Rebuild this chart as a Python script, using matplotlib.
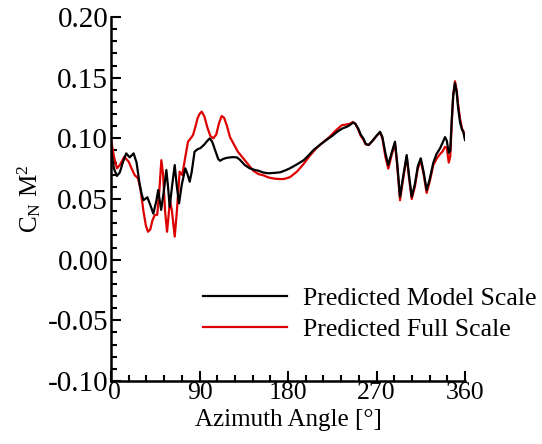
import matplotlib
matplotlib.use("Agg")
import matplotlib.pyplot as plt
import matplotlib.transforms as mtransforms
from matplotlib.ticker import MultipleLocator, FormatStrFormatter

plt.rcParams['font.family'] = ['Liberation Serif', 'DejaVu Serif']
plt.rcParams['mathtext.fontset'] = 'custom'
plt.rcParams['mathtext.rm'] = 'Liberation Serif'
plt.rcParams['mathtext.it'] = 'Liberation Serif:italic'

# Predicted Model Scale (black)
model_angle = [0, 3, 6, 9, 12, 15.5, 19, 23, 26, 29, 31, 33, 37, 40, 43, 46, 48, 51, 53.5, 56.3,
               58, 59.7, 62, 64.8, 67, 69.2, 72, 75.6, 78, 80, 82, 85, 88, 91, 95, 98, 100.5, 103,
               106, 109, 111, 114, 118, 124, 128, 131, 136, 141, 146, 150, 155, 160, 166, 172, 177,
               182, 189, 196, 201, 206, 213, 219, 225, 230, 235, 240, 243, 246, 248.5, 251.5, 254,
               256.6, 259, 262, 266, 270, 273.6, 276, 279, 282, 285, 288.8, 291, 293.9, 297, 300.7,
               303, 305.8, 309, 312, 315, 318, 321, 324, 327.8, 331, 334.6, 337, 339.7, 341.5,
               343.5, 345, 346.5, 348, 349.8, 351.5, 353, 355, 357, 358.3, 360]
model_cn = [0.091, 0.075, 0.069, 0.072, 0.080, 0.0876, 0.0843, 0.0876, 0.080, 0.063, 0.0546, 0.049,
            0.0514, 0.045, 0.038, 0.048, 0.0574, 0.041, 0.055, 0.0739, 0.060, 0.0436, 0.060, 0.078,
            0.060, 0.0464, 0.062, 0.0753, 0.070, 0.0642, 0.072, 0.089, 0.091, 0.092, 0.095, 0.098,
            0.100, 0.097, 0.090, 0.083, 0.0815, 0.083, 0.084, 0.0845, 0.0843, 0.0824, 0.078, 0.0753,
            0.074, 0.0733, 0.0718, 0.0712, 0.0715, 0.0720, 0.0735, 0.0753, 0.0785, 0.082, 0.086,
            0.0904, 0.095, 0.0986, 0.102, 0.1054, 0.108, 0.1096, 0.111, 0.113, 0.112, 0.108, 0.103,
            0.100, 0.0955, 0.0945, 0.098, 0.102, 0.1054, 0.101, 0.088, 0.078, 0.087, 0.0972, 0.080,
            0.0519, 0.068, 0.0862, 0.070, 0.0519, 0.062, 0.077, 0.0835, 0.072, 0.0574, 0.066, 0.080,
            0.087, 0.0917, 0.096, 0.1010, 0.098, 0.088, 0.090, 0.115, 0.135, 0.1453, 0.138, 0.125,
            0.113, 0.107, 0.1054, 0.0986]

# Predicted Full Scale (red)
full_angle = [0, 3, 6, 9, 13.5, 18, 21, 24, 27.5, 30, 33, 35.5, 37.6, 40, 42, 44.4, 47, 49, 51.2,
              53, 55, 57, 60, 62, 64.8, 67, 69.8, 72.5, 75, 78.3, 81, 83.4, 86, 88, 90, 92.2, 95,
              98, 101, 104, 107, 110, 112.6, 115, 118, 121, 124.4, 129, 134.5, 140, 144.7, 150,
              155, 160, 166, 172, 176, 182, 189, 196, 202.5, 209, 216, 222, 228, 234.5, 240, 243,
              246, 248.5, 251.5, 254, 256.6, 259, 262, 266, 270, 273.6, 276, 279, 282, 285, 288.8,
              291, 293.9, 297, 300.7, 303, 305.8, 309, 312, 315, 318, 321, 324, 327.8, 331, 334.6,
              337, 339.7, 341.5, 343.5, 345, 346.5, 348, 349.8, 351.5, 353, 355, 357, 358.3, 360]
full_cn = [0.099, 0.085, 0.0753, 0.078, 0.0848, 0.0807, 0.075, 0.0698, 0.0670, 0.058, 0.040, 0.028,
           0.0230, 0.025, 0.032, 0.0367, 0.037, 0.055, 0.082, 0.070, 0.040, 0.0230, 0.049, 0.040,
           0.019, 0.040, 0.0725, 0.0698, 0.082, 0.0972, 0.100, 0.1027, 0.110, 0.1165, 0.120, 0.122,
           0.118, 0.109, 0.102, 0.100, 0.103, 0.113, 0.1184, 0.117, 0.110, 0.101, 0.0959, 0.089,
           0.0835, 0.078, 0.0733, 0.0705, 0.0695, 0.0678, 0.0668, 0.0664, 0.0665, 0.068, 0.0725,
           0.079, 0.086, 0.092, 0.097, 0.101, 0.106, 0.1107, 0.1115, 0.112, 0.1135, 0.112, 0.107,
           0.102, 0.099, 0.095, 0.0945, 0.098, 0.102, 0.1050, 0.100, 0.085, 0.075, 0.085, 0.096,
           0.078, 0.049, 0.066, 0.085, 0.068, 0.050, 0.060, 0.075, 0.082, 0.070, 0.055, 0.064,
           0.078, 0.083, 0.087, 0.089, 0.093, 0.092, 0.080, 0.085, 0.112, 0.136, 0.147, 0.140,
           0.128, 0.116, 0.108, 0.106, 0.100]

x_ticks = [0, 90, 180, 270, 360]
y_ticks = [-0.10, -0.05, 0.00, 0.05, 0.10, 0.15, 0.20]

fig = plt.figure(figsize=(5.42, 4.44), dpi=100)
ax = fig.add_axes([111/542, 63/444, 354/542, 364/444])

l_full, = ax.plot(full_angle, full_cn, color='#dd0000', lw=1.6, label='Predicted Full Scale')
l_model, = ax.plot(model_angle, model_cn, color='black', lw=1.6, label='Predicted Model Scale')

ax.set_xlim(0, 360)
ax.set_ylim(-0.10, 0.20)
ax.set_xticks(x_ticks)
ax.set_yticks(y_ticks)
ax.yaxis.set_major_formatter(FormatStrFormatter('%.2f'))
ax.xaxis.set_minor_locator(MultipleLocator(18))
ax.yaxis.set_minor_locator(MultipleLocator(0.01))
ax.tick_params(which='both', direction='in', width=1.5)
ax.tick_params(which='major', length=7.5)
ax.tick_params(which='minor', length=4.5)
ax.tick_params(axis='x', which='major', labelsize=18.5, pad=1)
ax.tick_params(axis='y', which='major', labelsize=21, pad=2)
for s in ['top', 'right']:
    ax.spines[s].set_visible(False)
for s in ['left', 'bottom']:
    ax.spines[s].set_linewidth(1.8)

# nudge the "0" x tick label slightly right so it clears the -0.10 label
xlabels = ax.get_xticklabels()
offset = mtransforms.ScaledTranslation(3/100, 0, fig.dpi_scale_trans)
xlabels[0].set_transform(xlabels[0].get_transform() + offset)

ax.set_xlabel('Azimuth Angle [°]', fontsize=18, labelpad=3)
ax.set_ylabel(r'$\mathrm{C_N\ M^2}$', fontsize=18, labelpad=3)

fig.legend(handles=[l_model, l_full], loc='upper left', bbox_to_anchor=(203/542, (444-287)/444),
           frameon=False, fontsize=18.5, handlelength=3.27, handletextpad=0.62,
           labelspacing=0.33, borderpad=0, borderaxespad=0)

fig.savefig('out.png', dpi=100)
